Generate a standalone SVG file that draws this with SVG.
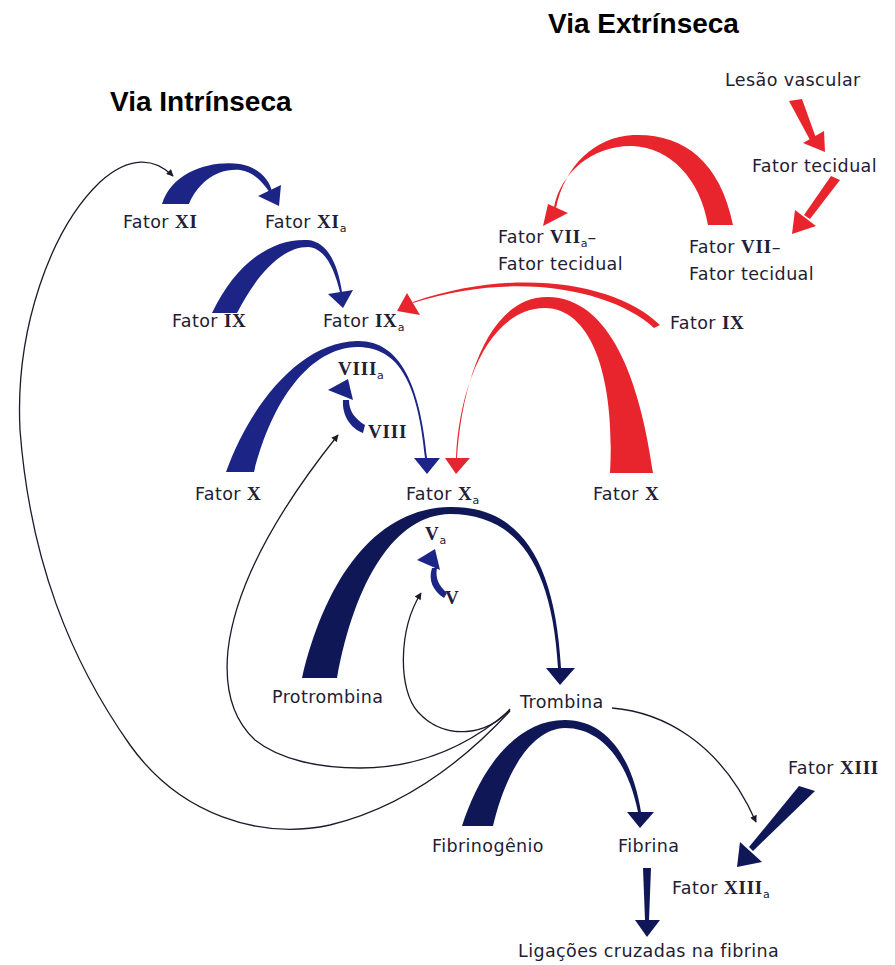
<svg xmlns="http://www.w3.org/2000/svg" width="895" height="965" viewBox="0 0 895 965">
<style>
.t{font-family:"DejaVu Sans","Liberation Sans",sans-serif;font-size:17.5px;letter-spacing:0.4px;fill:#1f2035}
.r{font-family:"Liberation Serif","Times New Roman",serif;font-weight:bold;font-size:19px;letter-spacing:0.8px}
.s{font-size:11px;letter-spacing:0}
.h{font-family:"Liberation Sans",Arial,sans-serif;font-weight:bold;font-size:28px;fill:#000}
.b{fill:#1c2586}
.d{fill:#0f1757}
.red{fill:#e8252d}
.ln{fill:none;stroke:#1a1a2a;stroke-width:1.3}
</style>
<defs>
<marker id="ah" viewBox="0 0 10 10" refX="9" refY="5" markerWidth="8" markerHeight="7" orient="auto" markerUnits="userSpaceOnUse">
<path d="M0,0 L10,5 L0,10 Z" fill="#1a1a2a"/>
</marker>
</defs>
<rect width="895" height="965" fill="#fff"/>

<text class="h" x="548" y="33">Via Extrínseca</text>
<text class="h" x="110" y="111">Via Intrínseca</text>

<g id="connectors">
<!-- extrinsic -->
<polygon class="red" points="789,101 802,99 816,138 810,140"/>
<polygon class="red" points="803,143 824,131 825,152"/>
<polygon class="red" points="831,176 840,180 810,219 804,215"/>
<polygon class="red" points="792,234 795,210 816,226"/>
<path class="red" d="M733 225 C720 160 682 133 633 135 C595 137 565 165 556 208 L554 207 C561 172 593 145 633 146 C670 148 700 178 708 225 Z"/>
<polygon class="red" points="548,204 568,213 543,226"/>
<path class="red" d="M660 325 C620 285 520 265 413 302 L413 303 C520 269 615 292 654 328 Z"/>
<polygon class="red" points="407,293 420,315 397,311"/>
<path class="red" d="M653 473 C640 380 610 298 548 297 C490 296 462 380 457 458 L456 458 C459 385 490 308 545 308 C595 309 615 385 610 473 Z"/>
<polygon class="red" points="445,458 470,458 456,474"/>
<!-- intrinsic -->
<path class="b" d="M162 204 C172 172 210 160 240 164 C258 167 270 180 272 192 L270 193 C264 184 255 172 240 170 C215 168 197 185 189 204 Z"/>
<polygon class="b" points="258,196 281,185 279,206"/>
<path class="b" d="M212 313 C235 265 270 238 308 240 C328 242 338 265 342 292 L340 292 C334 268 325 248 308 247 C280 247 255 278 237 313 Z"/>
<polygon class="b" points="328,294 353,290 343,308"/>
<path class="b" d="M226 472 C250 405 300 342 357 341 C400 340 420 385 427 458 L425 458 C418 385 400 347 357 347 C310 348 272 400 254 472 Z"/>
<polygon class="b" points="414,458 440,458 427,474"/>
<path class="b" d="M363 433 C350 428 342 415 343 400 L349 400 C349 411 355 419 365 425 Z"/>
<polygon class="b" points="328,390 348,379 353,400"/>
<path class="d" d="M302 678 C325 580 375 508 450 507 C520 506 555 560 561 668 L558 668 C552 562 515 514 450 514 C395 515 355 580 337 678 Z"/>
<polygon class="d" points="546,668 575,668 560,685"/>
<path class="b" d="M444 598 C433 591 428 580 432 568 L437 568 C435 578 439 586 447 593 Z"/>
<polygon class="b" points="417,560 435,549 440,570"/>
<path class="d" d="M462 826 C480 770 515 720 565 720 C605 720 632 755 641 812 L638 812 C628 762 602 728 565 728 C530 729 505 775 493 826 Z"/>
<polygon class="d" points="627,812 654,812 640,828"/>
<polygon class="d" points="643,868 651,868 649,920 645,920"/>
<polygon class="d" points="635,920 660,920 647,937"/>
<polygon class="d" points="799,786 815,791 753,851 749,847"/>
<polygon class="d" points="740,842 762,862 737,867"/>
<!-- thin feedback lines -->
<path class="ln" marker-end="url(#ah)" d="M510 711 C460 765 400 808 330 825 C260 840 180 815 130 745 C70 660 30 560 20 430 C15 330 50 230 100 182 C130 155 155 158 173 176"/>
<path class="ln" marker-end="url(#ah)" d="M510 710 C470 745 420 768 360 768 C320 768 280 760 255 740 C228 715 225 680 228 650 C235 590 270 520 338 435"/>
<path class="ln" marker-end="url(#ah)" d="M510 709 C490 735 445 742 418 712 C398 690 398 630 421 593"/>
<path class="ln" marker-end="url(#ah)" d="M612 708 C660 712 720 740 756 822"/>
</g>

<g id="n-lesao"><text class="t" x="725" y="86">Lesão vascular</text></g>
<g id="n-fatortecidual"><text class="t" x="752" y="172">Fator tecidual</text></g>
<g id="n-vii-tf"><text class="t" x="689" y="253">Fator <tspan class="r">VII</tspan>–</text><text class="t" x="689" y="280">Fator tecidual</text></g>
<g id="n-viia-tf"><text class="t" x="498" y="243">Fator <tspan class="r">VII</tspan><tspan class="s" dy="4">a</tspan><tspan dy="-4">–</tspan></text><text class="t" x="498" y="270">Fator tecidual</text></g>
<g id="n-ix-ext"><text class="t" x="670" y="329">Fator <tspan class="r">IX</tspan></text></g>
<g id="n-xi"><text class="t" x="123" y="228">Fator <tspan class="r">XI</tspan></text></g>
<g id="n-xia"><text class="t" x="265" y="228">Fator <tspan class="r">XI</tspan><tspan class="s" dy="4">a</tspan></text></g>
<g id="n-ix"><text class="t" x="172" y="327">Fator <tspan class="r">IX</tspan></text></g>
<g id="n-ixa"><text class="t" x="323" y="327">Fator <tspan class="r">IX</tspan><tspan class="s" dy="4">a</tspan></text></g>
<g id="n-viiia"><text class="t" x="338" y="375"><tspan class="r">VIII</tspan><tspan class="s" dy="4">a</tspan></text></g>
<g id="n-viii"><text class="t" x="368" y="438"><tspan class="r">VIII</tspan></text></g>
<g id="n-x"><text class="t" x="195" y="500">Fator <tspan class="r">X</tspan></text></g>
<g id="n-xa"><text class="t" x="406" y="500">Fator <tspan class="r">X</tspan><tspan class="s" dy="4">a</tspan></text></g>
<g id="n-x-ext"><text class="t" x="593" y="500">Fator <tspan class="r">X</tspan></text></g>
<g id="n-va"><text class="t" x="425" y="540"><tspan class="r">V</tspan><tspan class="s" dy="4">a</tspan></text></g>
<g id="n-v"><text class="t" x="445" y="604"><tspan class="r">V</tspan></text></g>
<g id="n-protrombina"><text class="t" x="272" y="703">Protrombina</text></g>
<g id="n-trombina"><text class="t" x="520" y="708">Trombina</text></g>
<g id="n-xiii"><text class="t" x="788" y="774">Fator <tspan class="r">XIII</tspan></text></g>
<g id="n-fibrinogenio"><text class="t" x="432" y="852">Fibrinogênio</text></g>
<g id="n-fibrina"><text class="t" x="618" y="852">Fibrina</text></g>
<g id="n-xiiia"><text class="t" x="672" y="894">Fator <tspan class="r">XIII</tspan><tspan class="s" dy="4">a</tspan></text></g>
<g id="n-ligacoes"><text class="t" x="518" y="957">Ligações cruzadas na fibrina</text></g>
</svg>
